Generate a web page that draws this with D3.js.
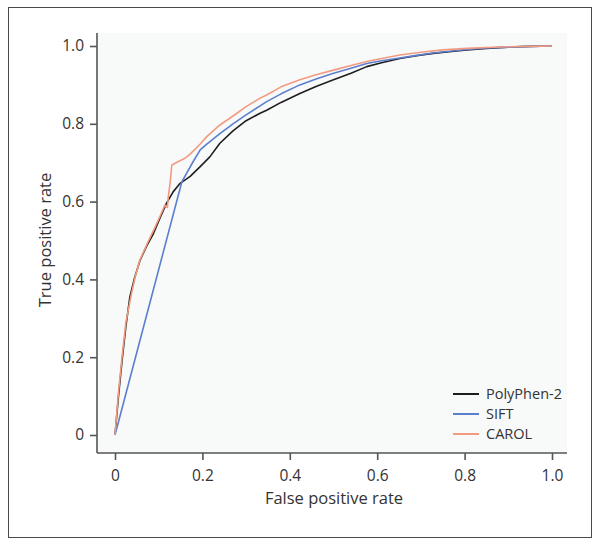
<!DOCTYPE html>
<html>
<head>
<meta charset="utf-8">
<script src="https://cdn.jsdelivr.net/npm/d3@7"></script>
<style>
  body { margin: 0; background: #fff; }
  svg { display: block; font-family: "Open Sans", "Noto Sans", sans-serif; }
</style>
</head>
<body>
<svg id="chart" width="600" height="546"></svg>
<script>
// --- data
const polyFpr = [0, 0.008, 0.016, 0.025, 0.034, 0.045, 0.057, 0.072, 0.088, 0.103, 0.118, 0.133, 0.149, 0.172, 0.195, 0.217, 0.24, 0.27, 0.30, 0.332, 0.347, 0.38, 0.423, 0.46, 0.5, 0.54, 0.576, 0.61, 0.652, 0.69, 0.728, 0.77, 0.805, 0.85, 0.9, 0.95, 1.0];
const polyTpr = [0, 0.1, 0.19, 0.28, 0.355, 0.405, 0.448, 0.485, 0.518, 0.558, 0.596, 0.625, 0.647, 0.665, 0.69, 0.715, 0.75, 0.782, 0.808, 0.827, 0.835, 0.855, 0.878, 0.896, 0.913, 0.93, 0.947, 0.957, 0.968, 0.975, 0.981, 0.986, 0.99, 0.994, 0.997, 0.999, 1.0];

const siftFpr = [0, 0.153, 0.165, 0.18, 0.195, 0.21, 0.24, 0.27, 0.30, 0.332, 0.347, 0.38, 0.423, 0.46, 0.5, 0.54, 0.576, 0.61, 0.652, 0.69, 0.728, 0.77, 0.805, 0.85, 0.9, 0.95, 1];
const siftTpr = [0, 0.651, 0.675, 0.705, 0.733, 0.748, 0.775, 0.8, 0.823, 0.846, 0.857, 0.877, 0.9, 0.915, 0.93, 0.943, 0.955, 0.962, 0.969, 0.976, 0.982, 0.987, 0.991, 0.995, 0.997, 0.999, 1];

const carolFpr = [0, 0.008, 0.016, 0.025, 0.038, 0.047, 0.057, 0.075, 0.092, 0.104, 0.114, 0.12, 0.122, 0.126, 0.13, 0.145, 0.158, 0.172, 0.195, 0.21, 0.24, 0.27, 0.30, 0.332, 0.347, 0.38, 0.423, 0.46, 0.5, 0.54, 0.576, 0.61, 0.652, 0.7, 0.75, 0.805, 0.85, 0.9, 0.95, 1];
const carolTpr = [0, 0.11, 0.2, 0.29, 0.365, 0.41, 0.45, 0.495, 0.535, 0.565, 0.591, 0.585, 0.613, 0.647, 0.694, 0.703, 0.71, 0.722, 0.748, 0.767, 0.797, 0.82, 0.844, 0.866, 0.874, 0.895, 0.913, 0.926, 0.938, 0.95, 0.96, 0.968, 0.977, 0.984, 0.99, 0.994, 0.996, 0.998, 0.999, 1];

const seriesNames = ["PolyPhen-2", "SIFT", "CAROL"];
const seriesColors = ["#1e1e1e", "#5b7fcf", "#f29b80"];
const tickValues = [0, 0.2, 0.4, 0.6, 0.8, 1.0];
const tickLabels = ["0", "0.2", "0.4", "0.6", "0.8", "1.0"];

const series = [
  { name: seriesNames[0], color: seriesColors[0], pts: polyFpr.map((x, i) => [x, polyTpr[i]]) },
  { name: seriesNames[1], color: seriesColors[1], pts: siftFpr.map((x, i) => [x, siftTpr[i]]) },
  { name: seriesNames[2], color: seriesColors[2], pts: carolFpr.map((x, i) => [x, carolTpr[i]]) }
];

const svg = d3.select("#chart");

// outer frame
svg.append("rect").attr("x", 8.5).attr("y", 7.5).attr("width", 583).attr("height", 530)
  .attr("fill", "#fff").attr("stroke", "#4a4a4a").attr("stroke-width", 1);

// plot panel
const panel = { left: 97, top: 33, right: 567, bottom: 453 };
svg.append("rect").attr("x", panel.left).attr("y", panel.top)
  .attr("width", panel.right - panel.left).attr("height", panel.bottom - panel.top)
  .attr("fill", "#f8f9f9");

const x = d3.scaleLinear().domain([0, 1]).range([115, 552]);
const y = d3.scaleLinear().domain([0, 1]).range([435, 46]);

// axes
const fmt = d => tickLabels[tickValues.indexOf(d)];
const xAxis = d3.axisBottom(x).tickValues(tickValues).tickFormat(fmt).tickSize(7).tickPadding(10);
const yAxis = d3.axisLeft(y).tickValues(tickValues).tickFormat(fmt).tickSize(7).tickPadding(6);

const gx = svg.append("g").attr("transform", `translate(0,${panel.bottom})`).call(xAxis);
gx.select(".domain").remove();
gx.append("line").attr("x1", panel.left).attr("x2", panel.right).attr("stroke", "#555").attr("stroke-width", 1.6);

const gy = svg.append("g").attr("transform", `translate(${panel.left},0)`).call(yAxis);
gy.select(".domain").remove();
gy.append("line").attr("y1", panel.top).attr("y2", panel.bottom).attr("stroke", "#555").attr("stroke-width", 1.6);

for (const g of [gx, gy]) {
  g.selectAll(".tick line").attr("stroke", "#555").attr("stroke-width", 1.6);
  g.selectAll(".tick text").attr("fill", "#333").attr("font-size", "15.5px").attr("font-family", "'Open Sans', sans-serif");
}

svg.append("text").attr("x", 334).attr("y", 504).attr("text-anchor", "middle")
  .attr("font-size", "16.5px").attr("fill", "#333").text("False positive rate");
svg.append("text").attr("transform", "translate(51,240) rotate(-90)").attr("text-anchor", "middle")
  .attr("font-size", "16.5px").attr("fill", "#333").text("True positive rate");

// curves
const line = d3.line().x(d => x(d[0])).y(d => y(d[1]));
svg.append("g").selectAll("path").data(series).join("path")
  .attr("d", d => line(d.pts))
  .attr("fill", "none")
  .attr("stroke", d => d.color)
  .attr("stroke-width", 1.6)
  .attr("stroke-linejoin", "round");

// legend
const leg = svg.append("g").attr("transform", "translate(453,394)");
const rows = leg.selectAll("g").data(series).join("g").attr("transform", (d, i) => `translate(0,${i * 20})`);
rows.append("line").attr("x1", 0).attr("x2", 26).attr("stroke", d => d.color).attr("stroke-width", 2);
rows.append("text").attr("x", 33).attr("dy", "0.35em").attr("font-size", "14.5px").attr("fill", "#333").text(d => d.name);
</script>
</body>
</html>
